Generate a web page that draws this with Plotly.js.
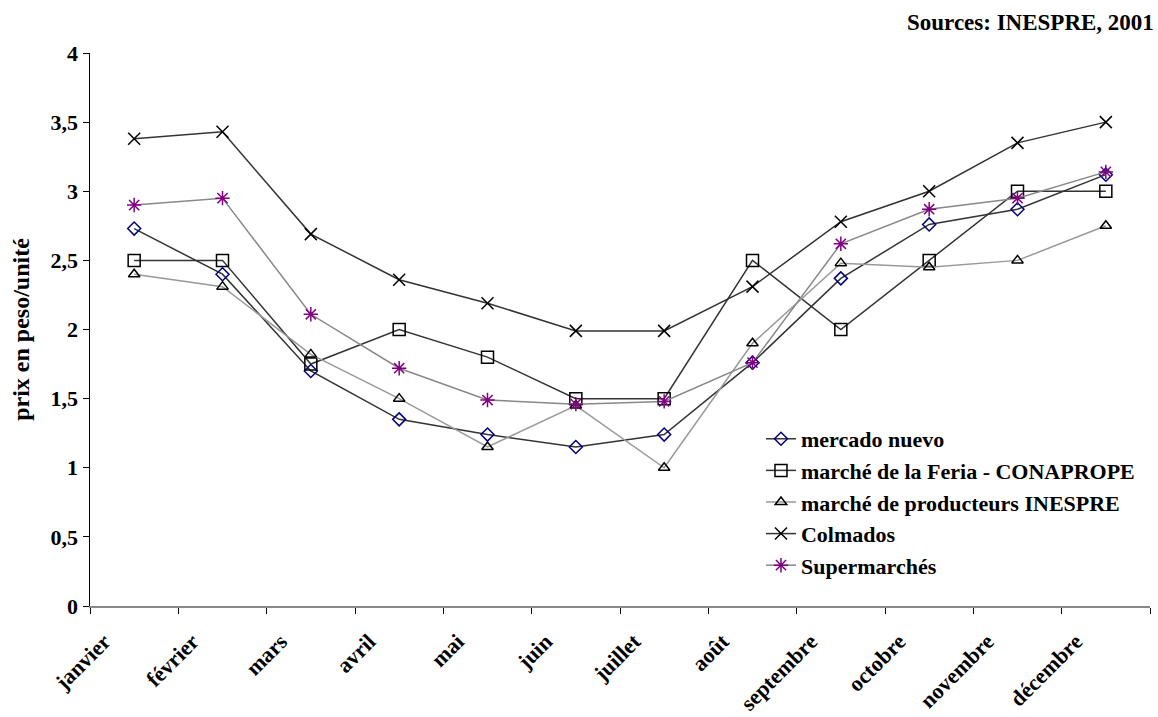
<!DOCTYPE html>
<html>
<head>
<meta charset="utf-8">
<script src="https://cdn.plot.ly/plotly-3.0.1.min.js"></script>
<style>html,body{margin:0;padding:0;background:#fff;}#chart{width:1158px;height:717px;}</style>
</head>
<body>
<div id="chart"></div>
<script>
const months = ["janvier","février","mars","avril","mai","juin","juillet","août","septembre","octobre","novembre","décembre"];
const mercadoNuevo = [2.73, 2.40, 1.70, 1.35, 1.24, 1.15, 1.24, 1.76, 2.37, 2.76, 2.87, 3.12];
const conaprope   = [2.5, 2.5, 1.75, 2.0, 1.8, 1.5, 1.5, 2.5, 2.0, 2.5, 3.0, 3.0];
const inespre     = [2.4, 2.31, 1.82, 1.5, 1.15, 1.45, 1.0, 1.9, 2.48, 2.45, 2.5, 2.75];
const colmados    = [3.38, 3.43, 2.69, 2.36, 2.19, 1.99, 1.99, 2.31, 2.78, 3.0, 3.35, 3.5];
const supermarches= [2.9, 2.95, 2.11, 1.72, 1.49, 1.46, 1.48, 1.76, 2.62, 2.87, 2.95, 3.14];
const seriesNames = ["mercado nuevo","marché de la Feria - CONAPROPE","marché de producteurs INESPRE","Colmados","Supermarchés"];

const font = "Liberation Serif, Times New Roman, serif";
function tr(name, y, lineColor, symbol, mColor, mSize){
  return {x: months, y: y, name: name, type: "scatter", mode: "lines+markers",
    line: {color: lineColor, width: 1.5},
    marker: {symbol: symbol, size: mSize, color: mColor, line: {color: mColor, width: 1.5}}};
}
const data = [
  tr(seriesNames[0], mercadoNuevo, "#333333", "diamond-open", "#000080", 10),
  tr(seriesNames[1], conaprope, "#333333", "square-open", "#000000", 12),
  tr(seriesNames[2], inespre, "#999999", "triangle-up-open", "#000000", 10),
  tr(seriesNames[3], colmados, "#333333", "x-thin-open", "#000000", 12),
  tr(seriesNames[4], supermarches, "#888888", "asterisk-open", "#800080", 12)
];
const layout = {
  width: 1158, height: 717,
  margin: {l: 90, r: 8, t: 53, b: 111},
  paper_bgcolor: "#fff", plot_bgcolor: "#fff",
  font: {family: font, color: "#000", size: 22, weight: "bold"},
  showlegend: true,
  legend: {x: 0.633, y: 0.34, xanchor: "left", yanchor: "top", bgcolor: "rgba(0,0,0,0)",
    font: {family: font, size: 22, weight: "bold", color: "#000"}},
  xaxis: {type: "category", tickson: "boundaries", ticks: "outside", ticklen: 6, tickcolor: "#000",
    tickangle: -45, showgrid: false, showline: true, linecolor: "#888", linewidth: 2, zeroline: false,
    ticklabelshift: -30, ticklabelstandoff: 12,
    tickfont: {family: font, size: 22, weight: "bold"}, range: [-0.5, 11.5]},
  yaxis: {range: [0, 4], dtick: 0.5, ticks: "outside", ticklen: 6, tickcolor: "#000", showgrid: false,
    showline: true, linecolor: "#000", linewidth: 1.5, zeroline: false,
    tickformat: ".1~f",
    tickfont: {family: font, size: 22, weight: "bold"},
    title: {text: "prix en peso/unité", font: {family: font, size: 24, weight: "bold"}, standoff: 14}},
  separators: ", ",
  annotations: [{text: "Sources: INESPRE, 2001", xref: "paper", yref: "paper", x: 1.006, y: 1.056,
    xanchor: "right", yanchor: "middle", showarrow: false,
    font: {family: font, size: 23, weight: "bold", color: "#000"}}]
};
Plotly.newPlot("chart", data, layout, {displayModeBar: false, staticPlot: true});
</script>
</body>
</html>
